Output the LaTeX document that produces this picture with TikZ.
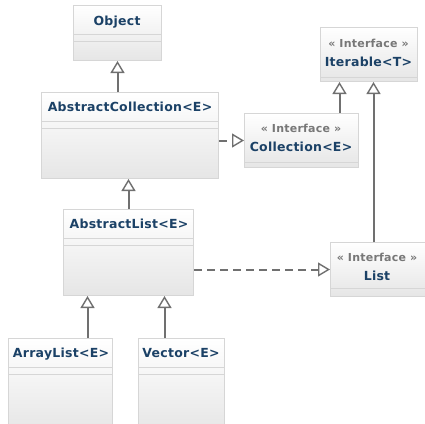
\documentclass[tikz,border=0pt]{standalone}
\usepackage{fontspec}
\usetikzlibrary{arrows.meta}
\newfontfamily\umlfont[LetterSpace=2]{DejaVu Sans}
\definecolor{umlblue}{HTML}{1B4166}
\definecolor{umlgray}{HTML}{777777}
\definecolor{umlline}{HTML}{707070}
\definecolor{umlborder}{HTML}{D6D6D6}
\tikzstyle{umlbox}=[draw=umlborder,line width=1pt,top color=white,bottom color=black!10,anchor=north west,inner sep=0pt]
\tikzstyle{classname}=[font=\umlfont\bfseries\fontsize{12.5}{13}\selectfont,text=umlblue,inner sep=0pt,anchor=base]
\tikzstyle{stereo}=[font=\umlfont\bfseries\fontsize{11}{12}\selectfont,text=umlgray,inner sep=0pt,anchor=base]
\tikzstyle{divider}=[draw=umlborder,line width=1pt]
\tikzstyle{inherit}=[draw=umlline,line width=2pt,-{Triangle[length=12pt,width=14pt,fill=white,line width=1.4pt]}]
\tikzstyle{realize}=[inherit,dash pattern=on 8pt off 5pt]

\begin{document}
\begin{tikzpicture}[x=1pt,y=-1pt]
        \useasboundingbox (0,0) rectangle (425,423);
        \clip (0,0) rectangle (425,423);
        \fill[white] (0,0) rectangle (425,423);
        % boxes
        \node[umlbox,minimum width=88pt,minimum height=55pt] (object) at (73,5) {};
        \node[umlbox,minimum width=177pt,minimum height=86pt] (abscoll) at (41,92) {};
        \node[umlbox,minimum width=97pt,minimum height=54pt] (iter) at (320,27) {};
        \node[umlbox,minimum width=114pt,minimum height=54pt] (coll) at (244,113) {};
        \node[umlbox,minimum width=130pt,minimum height=86pt] (abslist) at (63,209) {};
        \node[umlbox,minimum width=98pt,minimum height=54pt] (list) at (330,242) {};
        \node[umlbox,minimum width=104pt,minimum height=95pt] (arraylist) at (8,338) {};
        \node[umlbox,minimum width=86pt,minimum height=95pt] (vector) at (138,338) {};
        % compartments
        \draw[divider] ([yshift=-29pt]object.north west) -- ([yshift=-29pt]object.north east);
        \draw[divider] ([yshift=-36pt]object.north west) -- ([yshift=-36pt]object.north east);
        \draw[divider] ([yshift=-29pt]abscoll.north west) -- ([yshift=-29pt]abscoll.north east);
        \draw[divider] ([yshift=-36pt]abscoll.north west) -- ([yshift=-36pt]abscoll.north east);
        \draw[divider] ([yshift=-29pt]abslist.north west) -- ([yshift=-29pt]abslist.north east);
        \draw[divider] ([yshift=-36pt]abslist.north west) -- ([yshift=-36pt]abslist.north east);
        \draw[divider] ([yshift=-29pt]arraylist.north west) -- ([yshift=-29pt]arraylist.north east);
        \draw[divider] ([yshift=-36pt]arraylist.north west) -- ([yshift=-36pt]arraylist.north east);
        \draw[divider] ([yshift=-29pt]vector.north west) -- ([yshift=-29pt]vector.north east);
        \draw[divider] ([yshift=-36pt]vector.north west) -- ([yshift=-36pt]vector.north east);
        \draw[divider] ([yshift=-50pt]iter.north west) -- ([yshift=-50pt]iter.north east);
        \draw[divider] ([yshift=-49pt]coll.north west) -- ([yshift=-49pt]coll.north east);
        \draw[divider] ([yshift=-46pt]list.north west) -- ([yshift=-46pt]list.north east);
        % texts
        \node[classname] (objectname) at (117,25) {Object};
        \node[classname] (abscollname) at (130,111) {AbstractCollection<E>};
        \node[stereo] (iterstereo) at (368.5,47) {« Interface »};
        \node[classname] (itername) at (368.5,66) {Iterable<T>};
        \node[stereo] (collstereo) at (301,132) {« Interface »};
        \node[classname] (collname) at (301,151) {Collection<E>};
        \node[classname] (abslistname) at (129,228) {AbstractList<E>};
        \node[stereo] (liststereo) at (377,261) {« Interface »};
        \node[classname] (listname) at (377,280) {List};
        \node[classname] (arraylistname) at (61,357) {ArrayList<E>};
        \node[classname] (vectorname) at (181,357) {Vector<E>};
        % relations
        \coordinate (collup) at ([xshift=38pt]coll.north);
        \coordinate (listup) at ([xshift=-6pt]list.north);
        \coordinate (arrayup) at ([xshift=27pt]arraylist.north);
        \coordinate (vectorup) at ([xshift=-17pt]vector.north);
        \draw[inherit] (abscoll.north -| object.south) -- (object.south);
        \draw[inherit] (abslist.north) -- (abslist.north |- abscoll.south);
        \draw[realize] (abscoll.east |- coll.west) -- (coll.west);
        \draw[inherit] (collup) -- (collup |- iter.south);
        \draw[inherit] (listup) -- (listup |- iter.south);
        \draw[realize] (abslist.east |- list.west) -- (list.west);
        \draw[inherit] (arrayup) -- (arrayup |- abslist.south);
        \draw[inherit] (vectorup) -- (vectorup |- abslist.south);
    \end{tikzpicture}
\end{document}
